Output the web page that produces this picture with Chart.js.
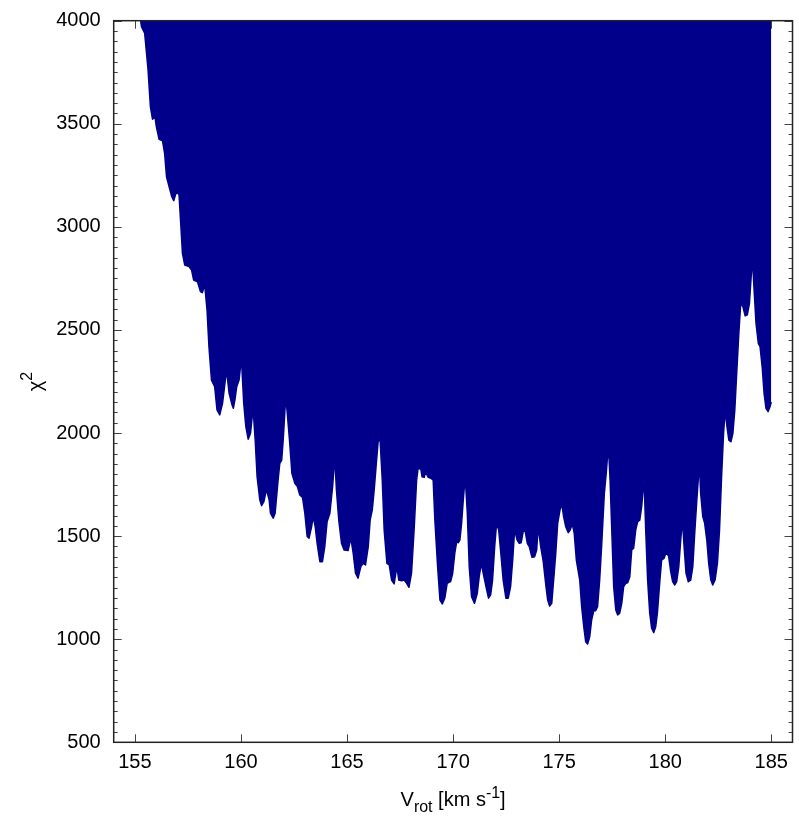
<!DOCTYPE html>
<html>
<head>
<meta charset="utf-8">
<script src="https://cdn.jsdelivr.net/npm/chart.js@4/dist/chart.umd.min.js"></script>
<style>
  html, body { margin: 0; padding: 0; background: #fff; }
  #wrap { position: relative; width: 799px; height: 830px; }
</style>
</head>
<body>
<div id="wrap"><canvas id="chart"></canvas></div>
<script>
// chi^2 vs rotation velocity
const vrot = [
    155.20, 155.31, 155.46, 155.62, 155.73, 155.83, 155.95, 156.01, 156.14, 156.30,
    156.40, 156.49, 156.61, 156.74, 156.83, 156.96, 157.08, 157.15, 157.24, 157.35,
    157.55, 157.67, 157.77, 157.95, 158.09, 158.18, 158.29, 158.40, 158.49, 158.61,
    158.76, 158.87, 159.00, 159.13, 159.32, 159.44, 159.57, 159.64, 159.72, 159.80,
    159.91, 160.02, 160.13, 160.23, 160.34, 160.45, 160.57, 160.67, 160.76, 160.89,
    160.97, 161.08, 161.20, 161.33, 161.39, 161.52, 161.61, 161.75, 161.83, 161.92,
    161.99, 162.11, 162.17, 162.30, 162.40, 162.54, 162.66, 162.77, 162.90, 163.01,
    163.12, 163.21, 163.33, 163.40, 163.50, 163.59, 163.72, 163.84, 163.95, 164.06,
    164.19, 164.32, 164.42, 164.50, 164.61, 164.74, 164.86, 165.05, 165.18, 165.29,
    165.40, 165.52, 165.65, 165.76, 165.87, 166.00, 166.09, 166.19, 166.28, 166.38,
    166.47, 166.56, 166.66, 166.75, 166.88, 166.99, 167.10, 167.22, 167.35, 167.44,
    167.57, 167.69, 167.81, 167.92, 168.04, 168.17, 168.28, 168.35, 168.48, 168.54,
    168.64, 168.70, 168.83, 168.95, 169.06, 169.14, 169.27, 169.38, 169.49, 169.61,
    169.72, 169.88, 169.98, 170.08, 170.17, 170.24, 170.32, 170.40, 170.48, 170.57,
    170.67, 170.76, 170.87, 171.01, 171.14, 171.23, 171.33, 171.42, 171.55, 171.67,
    171.77, 171.86, 171.96, 172.05, 172.15, 172.25, 172.36, 172.49, 172.60, 172.71,
    172.81, 172.90, 173.02, 173.12, 173.21, 173.31, 173.40, 173.50, 173.59, 173.72,
    173.84, 173.94, 174.01, 174.13, 174.25, 174.38, 174.46, 174.55, 174.65, 174.74,
    174.84, 174.93, 175.04, 175.12, 175.21, 175.31, 175.43, 175.52, 175.62, 175.71,
    175.81, 175.97, 176.06, 176.16, 176.25, 176.34, 176.44, 176.53, 176.63, 176.72,
    176.81, 176.91, 177.00, 177.13, 177.22, 177.32, 177.40, 177.48, 177.57, 177.67,
    177.76, 177.85, 177.95, 178.04, 178.14, 178.23, 178.33, 178.42, 178.51, 178.61,
    178.70, 178.80, 178.89, 179.00, 179.08, 179.17, 179.27, 179.36, 179.46, 179.55,
    179.63, 179.75, 179.83, 179.94, 180.04, 180.16, 180.26, 180.35, 180.45, 180.54,
    180.64, 180.73, 180.81, 180.89, 180.98, 181.09, 181.20, 181.30, 181.39, 181.49,
    181.61, 181.67, 181.77, 181.86, 181.96, 182.05, 182.15, 182.24, 182.35, 182.46,
    182.56, 182.65, 182.75, 182.83, 182.91, 183.00, 183.10, 183.19, 183.28, 183.37,
    183.47, 183.56, 183.66, 183.77, 183.87, 183.97, 184.03, 184.11, 184.19, 184.28,
    184.39, 184.47, 184.57, 184.66, 184.75, 184.85, 184.94, 185.00,
];
const chi2 = [
    4050, 3971, 3939, 3761, 3583, 3522, 3531, 3486, 3425, 3418,
    3357, 3243, 3195, 3146, 3127, 3171, 3155, 3033, 2872, 2815,
    2807, 2791, 2742, 2734, 2686, 2681, 2718, 2597, 2419, 2257,
    2225, 2112, 2088, 2144, 2306, 2193, 2140, 2120, 2165, 2225,
    2257, 2363, 2144, 2031, 1970, 1999, 2120, 1966, 1788, 1675,
    1648, 1667, 1727, 1675, 1611, 1587, 1611, 1772, 1853, 1869,
    1966, 2176, 2112, 1950, 1805, 1756, 1740, 1700, 1688, 1611,
    1498, 1490, 1546, 1595, 1546, 1465, 1376, 1376, 1449, 1570,
    1611, 1740, 1885, 1724, 1578, 1465, 1433, 1430, 1490, 1417,
    1320, 1296, 1352, 1368, 1360, 1449, 1578, 1627, 1724, 1853,
    1963, 1963, 1772, 1530, 1368, 1360, 1287, 1268, 1352, 1287,
    1284, 1287, 1271, 1252, 1320, 1546, 1772, 1829, 1824, 1788,
    1785, 1812, 1785, 1781, 1772, 1578, 1352, 1190, 1171, 1200,
    1271, 1279, 1320, 1417, 1473, 1468, 1481, 1562, 1675, 1788,
    1611, 1352, 1206, 1174, 1223, 1303, 1368, 1320, 1255, 1199,
    1215, 1287, 1449, 1562, 1530, 1417, 1287, 1199, 1199, 1255,
    1384, 1530, 1481, 1465, 1468, 1526, 1522, 1465, 1449, 1397,
    1400, 1433, 1546, 1449, 1376, 1255, 1190, 1161, 1174, 1287,
    1417, 1562, 1627, 1659, 1595, 1546, 1517, 1530, 1559, 1514,
    1384, 1287, 1158, 1061, 988, 977, 1012, 1093, 1138, 1138,
    1158, 1287, 1449, 1708, 1805, 1942, 1772, 1530, 1255, 1142,
    1118, 1126, 1174, 1255, 1271, 1274, 1303, 1433, 1441, 1530,
    1570, 1578, 1643, 1781, 1530, 1287, 1126, 1053, 1032, 1060,
    1126, 1287, 1384, 1392, 1420, 1403, 1328, 1279, 1263, 1279,
    1352, 1481, 1578, 1449, 1320, 1279, 1287, 1352, 1514, 1675,
    1853, 1708, 1595, 1562, 1481, 1368, 1287, 1263, 1287, 1368,
    1530, 1772, 1999, 2112, 2031, 1966, 1958, 1999, 2112, 2290,
    2484, 2629, 2613, 2568, 2573, 2629, 2726, 2847, 2694, 2532,
    2435, 2419, 2322, 2193, 2120, 2104, 2128, 2150,
];

const xTicks = [155, 160, 165, 170, 175, 180, 185];
const yTicks = [500, 1000, 1500, 2000, 2500, 3000, 3500, 4000];
const yMinorStep = 50;

const FONT = '"Liberation Sans", Arial, sans-serif';
const FILL = '#00008b';

// gnuplot-style frame: inward ticks under the data, box + titles on top
const frame = {
    id: 'frame',
    beforeDatasetsDraw(chart) {
        const { ctx, chartArea: a, scales: { x, y } } = chart;
        ctx.save();
        ctx.strokeStyle = '#444';
        ctx.lineWidth = 1;
        ctx.beginPath();
        for (let v = y.min; v <= y.max; v += yMinorStep) {
            const py = Math.round(y.getPixelForValue(v)) + 0.5;
            const len = (v % 500 === 0) ? 8 : 4;
            ctx.moveTo(a.left, py); ctx.lineTo(a.left + len, py);
            ctx.moveTo(a.right, py); ctx.lineTo(a.right - len, py);
        }
        for (const v of xTicks) {
            const px = Math.round(x.getPixelForValue(v)) + 0.5;
            ctx.moveTo(px, a.bottom); ctx.lineTo(px, a.bottom - 8);
            ctx.moveTo(px, a.top); ctx.lineTo(px, a.top + 8);
        }
        ctx.stroke();
        ctx.restore();
    },
    afterDraw(chart) {
        const { ctx, chartArea: a } = chart;
        ctx.save();
        ctx.strokeStyle = '#222';
        ctx.lineWidth = 1.5;
        ctx.strokeRect(a.left, a.top, a.right - a.left, a.bottom - a.top);

        // axis titles with sub/superscripts
        ctx.fillStyle = '#000';
        ctx.textBaseline = 'alphabetic';
        const big = '20px ' + FONT, small = '16px ' + FONT;
        // x title: V_rot [km s^-1]
        const parts = [
            { t: 'V', f: big, dy: 0 },
            { t: 'rot', f: small, dy: 6 },
            { t: ' [km s', f: big, dy: 0 },
            { t: '-1', f: small, dy: -8 },
            { t: ']', f: big, dy: 0 },
        ];
        let w = 0;
        for (const p of parts) { ctx.font = p.f; p.w = ctx.measureText(p.t).width; w += p.w; }
        let cx = (a.left + a.right) / 2 - w / 2;
        for (const p of parts) {
            ctx.font = p.f;
            ctx.fillText(p.t, cx, 806 + p.dy);
            cx += p.w;
        }
        // y title: chi^2, rotated
        ctx.translate(42, (a.top + a.bottom) / 2);
        ctx.rotate(-Math.PI / 2);
        ctx.font = big;
        const wc = ctx.measureText('\u03c7').width;
        ctx.font = small;
        const w2 = ctx.measureText('2').width;
        const sx = -(wc + w2) / 2;
        ctx.font = big;
        ctx.fillText('\u03c7', sx, 0);
        ctx.font = small;
        ctx.fillText('2', sx + wc, -10);
        ctx.restore();
    },
};

new Chart(document.getElementById('chart'), {
    type: 'line',
    data: {
        datasets: [{
            data: vrot.map((v, i) => ({ x: v, y: chi2[i] })),
            borderColor: FILL,
            backgroundColor: FILL,
            borderWidth: 1.5,
            borderJoinStyle: 'round',
            pointRadius: 0,
            tension: 0,
            fill: 'end',
        }],
    },
    options: {
        responsive: true,
        maintainAspectRatio: false,
        animation: false,
        events: [],
        layout: { padding: { left: 0, right: 6.5, top: 20.7, bottom: 0 } },
        plugins: { legend: { display: false }, tooltip: { enabled: false } },
        scales: {
            x: {
                type: 'linear',
                min: 154,
                max: 186,
                grid: { display: false, drawTicks: false },
                border: { display: false },
                afterBuildTicks: s => { s.ticks = xTicks.map(v => ({ value: v })); },
                afterFit: s => { s.height = 87.7; s.paddingLeft = 0; s.paddingRight = 0; },
                ticks: { color: '#000', padding: 8, maxRotation: 0, font: { family: FONT, size: 20 },
                         callback: v => String(v) },
            },
            y: {
                min: 500,
                max: 4000,
                grid: { display: false, drawTicks: false },
                border: { display: false },
                afterBuildTicks: s => { s.ticks = yTicks.map(v => ({ value: v })); },
                afterFit: s => { s.width = 113.7; s.paddingTop = 0; s.paddingBottom = 0; },
                ticks: { color: '#000', padding: 13, font: { family: FONT, size: 20 },
                         callback: v => String(v) },
            },
        },
    },
    plugins: [frame],
});
</script>
</body>
</html>
